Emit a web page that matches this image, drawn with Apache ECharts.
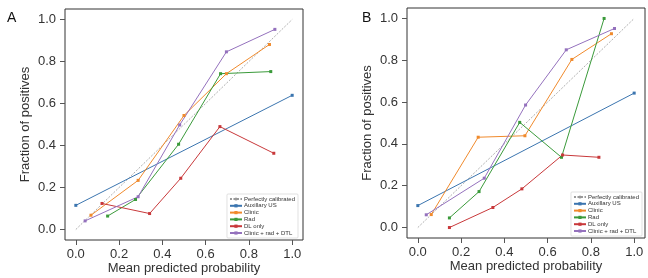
<!DOCTYPE html>
<html>
<head>
<meta charset="utf-8">
<script src="https://cdn.jsdelivr.net/npm/echarts@6/dist/echarts.min.js"></script>
<style>
html, body {margin: 0; padding: 0; background: #fff;}
#main {width: 648px; height: 278px;}
</style>
</head>
<body>
<div id="main"></div>
<script>
// 数据
const seriesNames = ['Perfectly calibrated', 'Auxillary US', 'Clinic', 'Rad', 'DL only', 'Clinic + rad + DTL'];
const colors = ['#999999', '#3b75af', '#f08a2c', '#3a9a3a', '#c8383a', '#9471bd'];
const tickValues = [0, 0.2, 0.4, 0.6, 0.8, 1.0];

const perfect = [[0, 0], [1, 1]];

// A
const auxA = [[0, 0.115], [1, 0.639]];
const clinicA = [[0.070, 0.068], [0.288, 0.234], [0.500, 0.543], [0.696, 0.742], [0.895, 0.881]];
const radA = [[0.147, 0.064], [0.276, 0.143], [0.475, 0.406], [0.669, 0.742], [0.901, 0.752]];
const dlA = [[0.121, 0.124], [0.341, 0.076], [0.485, 0.244], [0.666, 0.490], [0.915, 0.363]];
const comboA = [[0.043, 0.041], [0.288, 0.156], [0.480, 0.498], [0.696, 0.846], [0.920, 0.953]];

// B
const auxB = [[0, 0.105], [1, 0.643]];
const clinicB = [[0.062, 0.062], [0.279, 0.432], [0.495, 0.439], [0.712, 0.804], [0.895, 0.927]];
const radB = [[0.146, 0.046], [0.283, 0.172], [0.471, 0.503], [0.664, 0.336], [0.861, 1.0]];
const dlB = [[0.146, 0.0], [0.347, 0.096], [0.481, 0.185], [0.669, 0.347], [0.837, 0.336]];
const comboB = [[0.039, 0.061], [0.307, 0.236], [0.498, 0.586], [0.686, 0.850], [0.909, 0.952]];

const chart = echarts.init(document.getElementById('main'));

function axis(gridIndex, name, isY) {
    return {
        type: 'value',
        gridIndex: gridIndex,
        min: -0.05, max: 1.05,
        name: name,
        nameLocation: 'middle',
        nameGap: isY ? 33 : 22,
        nameMoveOverlap: false,
        nameTextStyle: {fontSize: 13, color: '#333', fontFamily: 'Liberation Sans'},
        axisLine: {show: false, onZero: false},
        splitLine: {show: false},
        axisTick: {show: true, inside: false, length: 5, customValues: tickValues, lineStyle: {color: '#555'}},
        axisLabel: {
            customValues: tickValues,
            fontSize: 13, color: '#333', margin: isY ? 9 : 8,
            fontFamily: 'Liberation Sans',
            formatter: v => v.toFixed(1)
        }
    };
}

function makeSeries(idx, datasets) {
    return datasets.map((d, i) => {
        if (i === 0) {
            return {
                name: seriesNames[0], type: 'line', xAxisIndex: idx, yAxisIndex: idx,
                data: d, symbol: 'none', silent: true,
                lineStyle: {color: colors[0], width: 0.8, type: [2, 1.5]},
                itemStyle: {color: colors[0]}, z: 1
            };
        }
        return {
            name: seriesNames[i], type: 'line', xAxisIndex: idx, yAxisIndex: idx,
            data: d, symbol: 'rect', symbolSize: 3,
            lineStyle: {color: colors[i], width: 1},
            itemStyle: {color: colors[i]}, z: 2
        };
    });
}

function legend(right, bottom) {
    return {
        data: seriesNames,
        orient: 'vertical',
        right: right, bottom: bottom,
        itemWidth: 12, itemHeight: 4, itemGap: 0.8,
        padding: [2, 3, 2, 2],
        borderColor: '#ccc', borderWidth: 0.6, borderRadius: 1,
        backgroundColor: '#fff',
        selectedMode: false,
        textStyle: {fontSize: 6, color: '#333', fontFamily: 'Liberation Sans', padding: [0, 0, 0, -3]}
    };
}

let option = {
    animation: false,
    title: [
        {text: 'A', left: 2, top: 6, textStyle: {fontSize: 14, fontWeight: 'normal', color: '#111', fontFamily: 'Liberation Sans'}},
        {text: 'B', left: 357, top: 6, textStyle: {fontSize: 14, fontWeight: 'normal', color: '#111', fontFamily: 'Liberation Sans'}}
    ],
    grid: [
        {left: 65, top: 9, width: 238, height: 231, outerBoundsMode: 'none', show: true, borderColor: '#333', borderWidth: 1, backgroundColor: 'transparent'},
        {left: 407, top: 8, width: 238, height: 230, outerBoundsMode: 'none', show: true, borderColor: '#333', borderWidth: 1, backgroundColor: 'transparent'}
    ],
    xAxis: [axis(0, 'Mean predicted probability', false), axis(1, 'Mean predicted probability', false)],
    yAxis: [axis(0, 'Fraction of positives', true), axis(1, 'Fraction of positives', true)],
    legend: [legend(350, 40), legend(6, 42)],
    series: makeSeries(0, [perfect, auxA, clinicA, radA, dlA, comboA])
        .concat(makeSeries(1, [perfect, auxB, clinicB, radB, dlB, comboB]))
};

chart.setOption(option);
</script>
</body>
</html>
